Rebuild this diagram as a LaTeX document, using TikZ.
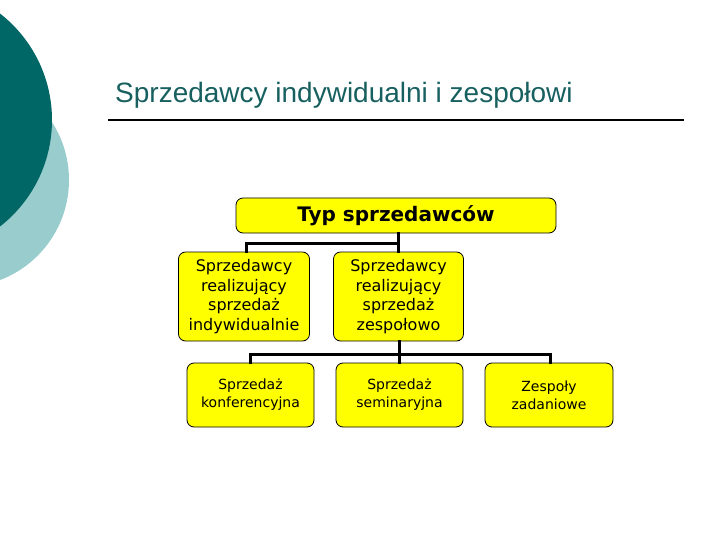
\documentclass[tikz,border=0pt]{standalone}
\usepackage{fontspec}
\setmainfont{Liberation Sans}
\newfontfamily\verd{DejaVu Sans}
\definecolor{darkteal}{RGB}{0,102,102}
\definecolor{lightteal}{RGB}{153,204,204}
\definecolor{titleteal}{RGB}{24,96,96}
\definecolor{boxyellow}{RGB}{255,255,0}
\begin{document}
\begin{tikzpicture}[x=1pt,y=-1pt,
  ybox/.style={draw=black, line width=0.8pt, fill=boxyellow, rounded corners=7pt, inner sep=0pt, align=center},
  conn/.style={line width=3pt, line cap=rect}]
\useasboundingbox (0,0) rectangle (720,540);
\clip (0,0) rectangle (720,540);
% background circles
\fill[lightteal] (-38,180) circle[radius=107];
\fill[darkteal] (-83,120) circle[radius=135];
% title
\node[anchor=base west, text=titleteal, font=\fontsize{28}{32}\selectfont, inner sep=0pt] (title) at (115,103) {Sprzedawcy indywidualni i zespołowi};
\coordinate (la) at (108,120);
\coordinate (lb) at (684,120);
\draw[line width=1.8pt] (la) -- (lb);
% boxes
\node[ybox, minimum width=320, minimum height=35, font=\verd\bfseries\fontsize{20}{24}\selectfont] (top) at (396,215.5) {Typ sprzedawców};
\node[ybox, minimum width=131, minimum height=89, font=\verd\fontsize{16}{19.5}\selectfont] (ind) at (244,296.5) {Sprzedawcy\\realizujący\\sprzedaż\\indywidualnie};
\node[ybox, minimum width=130, minimum height=89, font=\verd\fontsize{16}{19.5}\selectfont] (zes) at (398.5,296.5) {Sprzedawcy\\realizujący\\sprzedaż\\zespołowo};
\node[ybox, minimum width=127, minimum height=64, font=\verd\fontsize{14}{18}\selectfont] (konf) at (250.5,395) {Sprzedaż\\konferencyjna};
\node[ybox, minimum width=127, minimum height=64, font=\verd\fontsize{14}{18}\selectfont] (sem) at (399.5,395) {Sprzedaż\\seminaryjna};
\node[ybox, minimum width=128, minimum height=64, font=\verd\fontsize{14}{18}\selectfont] (zad) at (549,395) {Zespoły\\zadaniowe};
% connectors
\coordinate (b1) at (398,243);
\coordinate (b2) at (399,354);
\draw[conn] (top.south -| b1) -- (b1) -| (ind.north -| 246,0);
\draw[conn] (b1) -- (zes.north -| b1);
\draw[conn] (zes.south -| b2) -- (b2) -| (konf.north -| 250,0);
\draw[conn] (b2) -- (sem.north -| b2);
\draw[conn] (b2) -| (zad.north -| 550,0);
\end{tikzpicture}
\end{document}
